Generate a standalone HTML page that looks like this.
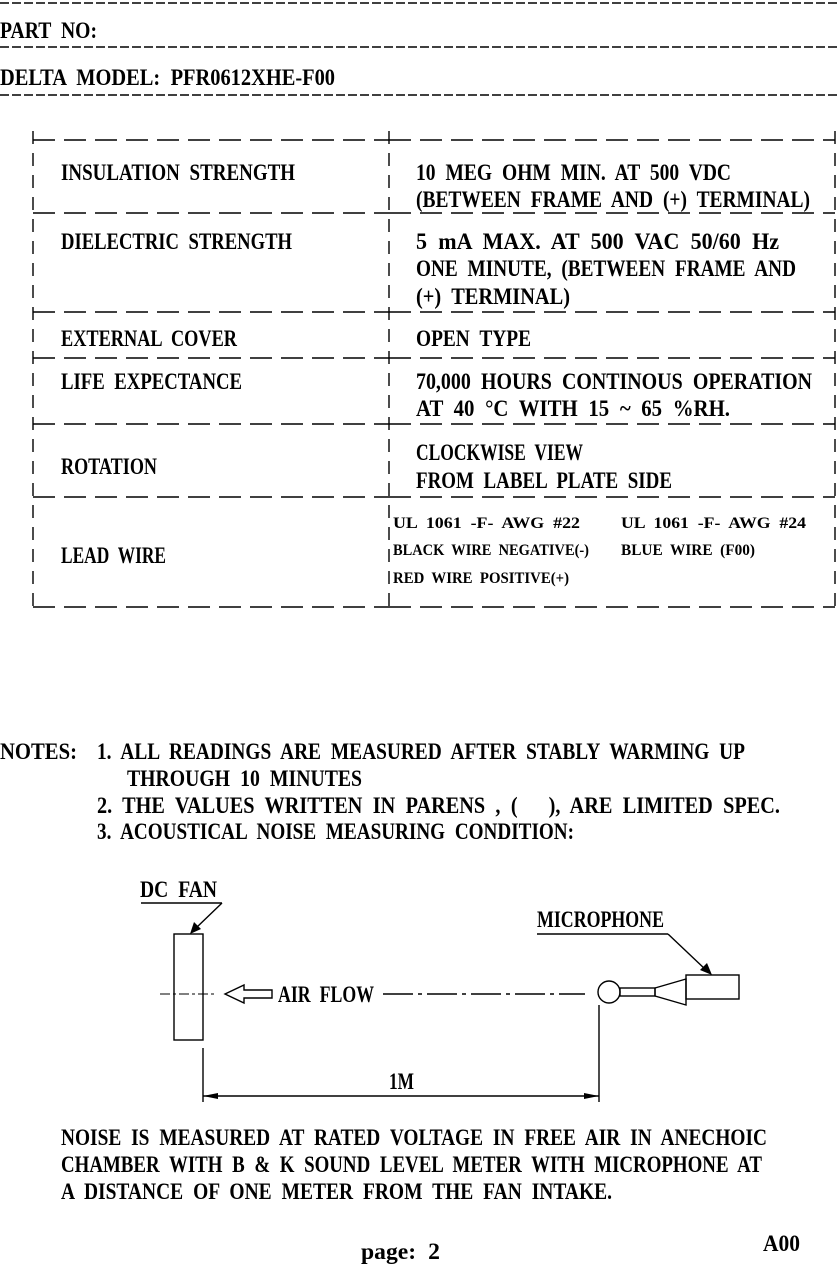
<!DOCTYPE html>
<html><head><meta charset="utf-8"><style>
html,body{margin:0;padding:0;background:#fff;}
svg{display:block}
text{font-family:"Liberation Serif",serif;fill:#000;white-space:pre;word-spacing:6px;}
.b{font-weight:bold;font-size:23px;}
.n{font-weight:bold;font-size:23px;}
.s{font-weight:bold;font-size:16px;word-spacing:4px;}
.d{stroke:#000;stroke-width:1.4;fill:none;stroke-dasharray:9 3;}
.t{stroke:#000;stroke-width:1.5;fill:none;stroke-dasharray:22 9;}
.l{stroke:#000;stroke-width:1.4;fill:none;}
</style></head><body>
<svg width="838" height="1267" viewBox="0 0 838 1267" xmlns="http://www.w3.org/2000/svg" xml:space="preserve">
<line class="d" x1="0" y1="3" x2="838" y2="3"/>
<text class="b" x="0" y="38" textLength="97" lengthAdjust="spacingAndGlyphs">PART NO:</text>
<line class="d" x1="0" y1="47" x2="838" y2="47"/>
<text class="b" x="0" y="85" textLength="335" lengthAdjust="spacingAndGlyphs">DELTA MODEL: PFR0612XHE-F00</text>
<line class="d" x1="0" y1="95" x2="838" y2="95"/>

<g class="t">
<line x1="33" y1="140" x2="389" y2="140"/><line x1="389" y1="140" x2="835" y2="140"/>
<line x1="33" y1="213" x2="389" y2="213"/><line x1="389" y1="213" x2="835" y2="213"/>
<line x1="33" y1="312" x2="389" y2="312"/><line x1="389" y1="312" x2="835" y2="312"/>
<line x1="33" y1="358" x2="389" y2="358"/><line x1="389" y1="358" x2="835" y2="358"/>
<line x1="33" y1="424" x2="389" y2="424"/><line x1="389" y1="424" x2="835" y2="424"/>
<line x1="33" y1="497" x2="389" y2="497"/><line x1="389" y1="497" x2="835" y2="497"/>
<line x1="33" y1="607" x2="389" y2="607"/><line x1="389" y1="607" x2="835" y2="607"/>
</g>
<g class="l" style="stroke-dasharray:13 9">
<line x1="33" y1="131" x2="33" y2="607"/>
<line x1="389" y1="131" x2="389" y2="607"/>
<line x1="835" y1="131" x2="835" y2="607"/>
</g>

<text class="b" x="61" y="180" textLength="234" lengthAdjust="spacingAndGlyphs">INSULATION STRENGTH</text>
<text class="b" x="416" y="180" textLength="315" lengthAdjust="spacingAndGlyphs">10 MEG OHM MIN. AT 500 VDC</text>
<text class="b" x="416" y="207" textLength="394" lengthAdjust="spacingAndGlyphs">(BETWEEN FRAME AND (+) TERMINAL)</text>

<text class="b" x="61" y="249" textLength="231" lengthAdjust="spacingAndGlyphs">DIELECTRIC STRENGTH</text>
<text class="b" x="416" y="249" textLength="363" lengthAdjust="spacingAndGlyphs">5 mA MAX. AT 500 VAC 50/60 Hz</text>
<text class="b" x="416" y="276" textLength="380" lengthAdjust="spacingAndGlyphs">ONE MINUTE, (BETWEEN FRAME AND</text>
<text class="b" x="416" y="304" textLength="154" lengthAdjust="spacingAndGlyphs">(+) TERMINAL)</text>

<text class="b" x="61" y="346" textLength="176" lengthAdjust="spacingAndGlyphs">EXTERNAL COVER</text>
<text class="b" x="416" y="346" textLength="115" lengthAdjust="spacingAndGlyphs">OPEN TYPE</text>

<text class="b" x="61" y="389" textLength="181" lengthAdjust="spacingAndGlyphs">LIFE EXPECTANCE</text>
<text class="b" x="416" y="389" textLength="396" lengthAdjust="spacingAndGlyphs">70,000 HOURS CONTINOUS OPERATION</text>
<text class="b" x="416" y="416" textLength="314" lengthAdjust="spacingAndGlyphs">AT 40 °C WITH 15 ~ 65 %RH.</text>

<text class="b" x="61" y="474" textLength="96" lengthAdjust="spacingAndGlyphs">ROTATION</text>
<text class="b" x="416" y="460" textLength="167" lengthAdjust="spacingAndGlyphs">CLOCKWISE VIEW</text>
<text class="b" x="416" y="488" textLength="256" lengthAdjust="spacingAndGlyphs">FROM LABEL PLATE SIDE</text>

<text class="b" x="61" y="563" textLength="105" lengthAdjust="spacingAndGlyphs">LEAD WIRE</text>
<text class="s" x="393" y="528" textLength="187" lengthAdjust="spacingAndGlyphs">UL 1061 -F- AWG #22</text>
<text class="s" x="621" y="528" textLength="185" lengthAdjust="spacingAndGlyphs">UL 1061 -F- AWG #24</text>
<text class="s" x="393" y="555" textLength="196" lengthAdjust="spacingAndGlyphs">BLACK WIRE NEGATIVE(-)</text>
<text class="s" x="621" y="555" textLength="134" lengthAdjust="spacingAndGlyphs">BLUE WIRE (F00)</text>
<text class="s" x="393" y="583" textLength="176" lengthAdjust="spacingAndGlyphs">RED WIRE POSITIVE(+)</text>

<text class="n" x="0" y="759" textLength="77" lengthAdjust="spacingAndGlyphs">NOTES:</text>
<text class="n" x="97" y="759" textLength="648" lengthAdjust="spacingAndGlyphs">1. ALL READINGS ARE MEASURED AFTER STABLY WARMING UP</text>
<text class="n" x="127" y="786" textLength="235" lengthAdjust="spacingAndGlyphs">THROUGH 10 MINUTES</text>
<text class="n" x="97" y="813" textLength="683" lengthAdjust="spacingAndGlyphs">2. THE VALUES WRITTEN IN PARENS , (   ), ARE LIMITED SPEC.</text>
<text class="n" x="97" y="839" textLength="477" lengthAdjust="spacingAndGlyphs">3. ACOUSTICAL NOISE MEASURING CONDITION:</text>

<text class="n" x="140" y="897" textLength="77" lengthAdjust="spacingAndGlyphs">DC FAN</text>
<line class="l" x1="141" y1="903" x2="222" y2="903"/>
<line class="l" x1="222" y1="903" x2="196" y2="928"/>
<polygon points="190,934 194,922 201,929" fill="#000"/>
<rect class="l" x="174" y="934" width="29" height="106"/>
<line class="l" x1="160" y1="994" x2="215" y2="994" style="stroke-dasharray:10 3 3 3;stroke-width:1"/>
<polygon class="l" points="225,994 244,985 244,990 272,990 272,998 244,998 244,1003"/>
<text class="n" x="278" y="1002" textLength="96" lengthAdjust="spacingAndGlyphs">AIR FLOW</text>
<line class="l" x1="383" y1="994" x2="585" y2="994" style="stroke-dasharray:30 5 4 5"/>
<circle class="l" cx="609" cy="992" r="11"/>
<rect class="l" x="620" y="988" width="35" height="8"/>
<polygon class="l" points="655,988 686,979 686,1005 655,996"/>
<rect class="l" x="686" y="975" width="53" height="24"/>
<text class="n" x="537" y="927" textLength="127" lengthAdjust="spacingAndGlyphs">MICROPHONE</text>
<line class="l" x1="537" y1="934" x2="668" y2="934"/>
<line class="l" x1="668" y1="934" x2="706" y2="970"/>
<polygon points="712,975 700,970 707,963" fill="#000"/>
<line class="l" x1="203" y1="1048" x2="203" y2="1102"/>
<line class="l" x1="599" y1="1005" x2="599" y2="1102"/>
<line class="l" x1="203" y1="1096" x2="599" y2="1096"/>
<polygon points="203,1096 218,1093 218,1099" fill="#000"/>
<polygon points="599,1096 584,1093 584,1099" fill="#000"/>
<text class="n" x="389" y="1089" textLength="25" lengthAdjust="spacingAndGlyphs">1M</text>

<text class="n" x="61" y="1145" textLength="706" lengthAdjust="spacingAndGlyphs">NOISE IS MEASURED AT RATED VOLTAGE IN FREE AIR IN ANECHOIC</text>
<text class="n" x="61" y="1172" textLength="701" lengthAdjust="spacingAndGlyphs">CHAMBER WITH B &amp; K SOUND LEVEL METER WITH MICROPHONE AT</text>
<text class="n" x="61" y="1199" textLength="551" lengthAdjust="spacingAndGlyphs">A DISTANCE OF ONE METER FROM THE FAN INTAKE.</text>
<text class="n" x="361" y="1259" textLength="79" lengthAdjust="spacingAndGlyphs">page: 2</text>
<text class="n" x="763" y="1251" textLength="37" lengthAdjust="spacingAndGlyphs">A00</text>
</svg>
</body></html>
